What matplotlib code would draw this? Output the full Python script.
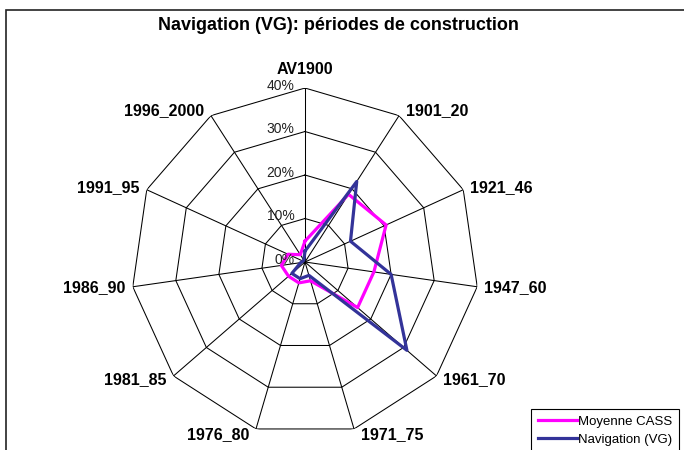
import numpy as np
import matplotlib.pyplot as plt
from matplotlib.patches import Rectangle

plt.rcParams['font.family'] = ['Liberation Sans', 'DejaVu Sans']

# periodes de construction (sens horaire a partir du haut)
periodes = ['AV1900', '1901_20', '1921_46', '1947_60', '1961_70', '1971_75',
            '1976_80', '1981_85', '1986_90', '1991_95', '1996_2000']
moyenne_cass = [4.8, 18.5, 20.5, 16.0, 16.0, 4.5, 5.0, 5.0, 5.5, 4.3, 2.0]      # en %
navigation_vg = [2.5, 22.0, 11.5, 20.0, 31.0, 3.2, 4.0, 4.0, 1.0, 0.5, 0.5]     # en %
niveaux = [0, 10, 20, 30, 40]

n = len(periodes)
theta = np.arange(n) * 2 * np.pi / n
theta_f = np.append(theta, theta[0])

fig = plt.figure(figsize=(6.84, 4.5), dpi=100)
# cadre de la zone de graphique
fig.patches.append(Rectangle((6 / 684, -0.05), 1.1, 1 - 10 / 450 + 0.05,
                             transform=fig.transFigure, fill=False,
                             edgecolor='#222222', lw=1.2))

ax = fig.add_axes([0.1915, 0.0311, 0.5088, 0.7733], projection='polar')
ax.set_theta_zero_location('N')
ax.set_theta_direction(-1)
ax.set_ylim(0, max(niveaux))
ax.grid(False)
ax.spines['polar'].set_visible(False)
ax.set_xticks([])
ax.set_yticks([])

# grille polygonale
for r in niveaux[1:]:
    ax.plot(theta_f, [r] * (n + 1), color='black', lw=0.75)
for t in theta:
    ax.plot([t, t], [0, max(niveaux)], color='black', lw=0.75)

# series
ax.plot(theta_f, moyenne_cass + moyenne_cass[:1], color='#FF00FF', lw=2.3,
        label='Moyenne CASS')
ax.plot(theta_f, navigation_vg + navigation_vg[:1], color='#333399', lw=2.3,
        label='Navigation (VG)')

# etiquettes de l'axe radial
for r in niveaux:
    ax.annotate(f'{r}%', xy=(0, r), xytext=(-7.5, 1.5), textcoords='offset points',
                ha='right', va='center', fontsize=10, color='#222222')

# etiquettes des categories
for t, lab in zip(theta, periodes):
    s, c = np.sin(t), np.cos(t)
    if abs(s) < 0.01:
        ha, va, off = 'center', 'bottom', (0, 8)
    else:
        ha = 'left' if s > 0 else 'right'
        va = 'center'
        off = (5 * np.sign(s), 4 * c)
    ax.annotate(lab, xy=(t, max(niveaux)), xytext=off, textcoords='offset points',
                ha=ha, va=va, fontsize=11.5, fontweight='bold')

fig.text(0.495, 1 - 26 / 450, 'Navigation (VG): périodes de construction',
         ha='center', va='center', fontsize=13, fontweight='bold')

leg = fig.legend(loc='upper left', bbox_to_anchor=(531 / 684, 1 - 409 / 450),
                 fontsize=9.5, handlelength=3.0, handletextpad=0.1,
                 labelspacing=0.45, borderpad=0.5, borderaxespad=0,
                 fancybox=False, framealpha=1, edgecolor='black')
leg.get_frame().set_linewidth(0.8)

fig.savefig('out.png', dpi=100)
